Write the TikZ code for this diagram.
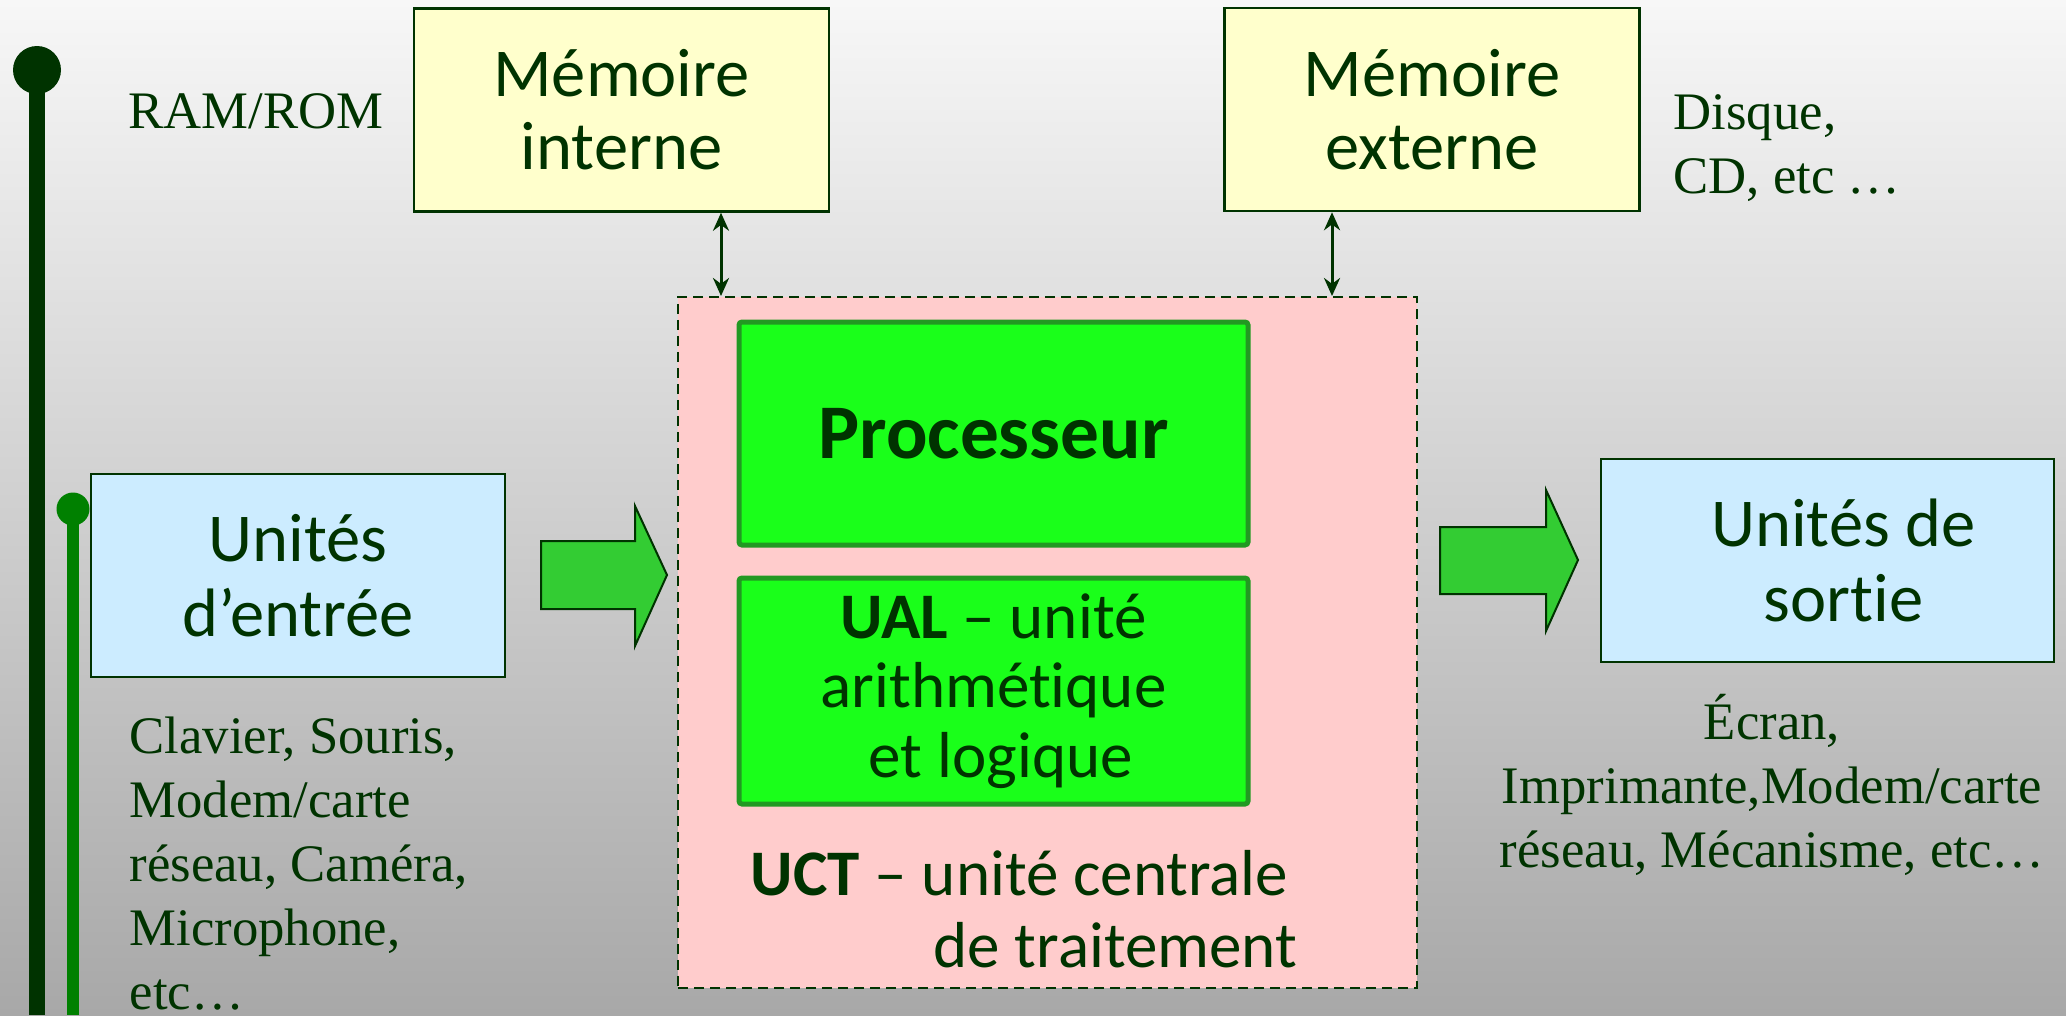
\documentclass[tikz,border=0pt]{standalone}
\usepackage{fontspec}
\setmainfont{Liberation Serif}
\newfontfamily\sansfam[Ligatures=NoCommon]{Carlito}
\usetikzlibrary{arrows.meta}
\definecolor{dkgreen}{HTML}{003300}
\definecolor{midgreen}{HTML}{008000}
\definecolor{memfill}{HTML}{FFFFCC}
\definecolor{iofill}{HTML}{CCECFF}
\definecolor{uctfill}{HTML}{FFCCCC}
\definecolor{cpufill}{HTML}{1AFF1A}
\definecolor{cpuedge}{HTML}{229922}
\definecolor{flowfill}{HTML}{33CC33}
\definecolor{bgtop}{HTML}{F7F7F7}
\definecolor{bgbottom}{HTML}{A8A8A8}

\begin{document}
\begin{tikzpicture}[x=0.1mm,y=-0.1mm,
  every node/.style={text=dkgreen},
  plainbox/.style={draw=dkgreen, line width=0.25mm, inner sep=0pt, align=center},
  membox/.style={plainbox, fill=memfill, minimum width=41.5mm, minimum height=20.3mm,
    font=\sansfam\fontsize{19.5}{20.7}\selectfont},
  iobox/.style={plainbox, fill=iofill, minimum height=20.3mm,
    font=\sansfam\fontsize{19.5}{21.3}\selectfont},
  cpubox/.style={draw=cpuedge, line width=0.5mm, rounded corners=0.3mm, fill=cpufill,
    minimum width=50.9mm, inner sep=0pt, align=center},
  serifnote/.style={inner sep=0pt, font=\fontsize{15}{18.2}\selectfont},
  flow/.style={draw=dkgreen, line width=0.2mm, fill=flowfill},
  link/.style={draw=dkgreen, line width=0.3mm, {Stealth[length=1.8mm,width=1.6mm]}-{Stealth[length=1.8mm,width=1.6mm]}}
]
% background
\shade[top color=bgtop, bottom color=bgbottom] (0,0) rectangle (2066,1015);
\useasboundingbox (0,0) rectangle (2066,1015);

% left bars
\draw[dkgreen, line width=1.6mm] (37,70) -- (37,1015);
\fill[dkgreen] (37,70) circle[radius=2.4mm];
\draw[midgreen, line width=1.2mm] (73,509) -- (73,1015);
\fill[midgreen] (73,509) circle[radius=1.65mm];

% memories (multi-line nodes: base anchor sits on the last line)
\node[membox] (memint) at (621.5,110) {Mémoire\\interne};
\node[membox] (memext) at (1432,109.5) {Mémoire\\externe};
\node[serifnote, anchor=base west] (ramrom) at (128,128) {RAM/ROM};
\node[serifnote, anchor=base west, align=left] (disque) at (1673,193) {Disque,\\CD, etc …};

% central unit
\node[draw=dkgreen, dashed, dash pattern=on 1mm off 0.6mm, line width=0.2mm, fill=uctfill,
  minimum width=73.9mm, minimum height=69.1mm, inner sep=0pt] (uct) at (1047.5,642.5) {};
\node[cpubox, minimum height=22.3mm, font=\sansfam\bfseries\fontsize{22}{24}\selectfont]
  (proc) at (993.5,433.5) {Processeur};
\node[cpubox, minimum height=22.6mm, font=\sansfam\fontsize{18.5}{19.8}\selectfont]
  (ual) at (993.5,691) {\textbf{UAL} – unité\\arithmétique\\\ et logique};
\node[inner sep=0pt, anchor=base west, align=left, font=\sansfam\fontsize{18.5}{20.4}\selectfont]
  (uctlabel) at (750,967) {\textbf{UCT} – unité centrale\\\hspace*{18.3mm}de traitement};

% memory links
\coordinate (mi) at (721,0);
\coordinate (me) at (1332,0);
\draw[link] (mi |- memint.south) -- (mi |- uct.north);
\draw[link] (me |- memext.south) -- (me |- uct.north);

% input / output
\node[iobox, minimum width=41.4mm] (entree) at (298,575.5) {Unités\\d’entrée};
\node[iobox, minimum width=45.3mm] (sortie) at (1827.5,560.5)
  {\hspace*{3.2mm}Unités de\\\hspace*{3.2mm}sortie};
\node[serifnote, anchor=base west, align=left] (inlist) at (129,1009)
  {Clavier, Souris,\\Modem/carte\\réseau, Caméra,\\Microphone,\\etc…};
\node[serifnote, anchor=base, align=center] (outlist) at (1772,867)
  {Écran,\\Imprimante,Modem/carte\\réseau, Mécanisme, etc…};

% flow arrows
\draw[flow] (541,541) -- (635,541) -- (635,506) -- (667,575) -- (635,646) -- (635,609) -- (541,609) -- cycle;
\draw[flow] (1440,527) -- (1546,527) -- (1546,490) -- (1578,560) -- (1546,631) -- (1546,594) -- (1440,594) -- cycle;
\end{tikzpicture}
\end{document}
